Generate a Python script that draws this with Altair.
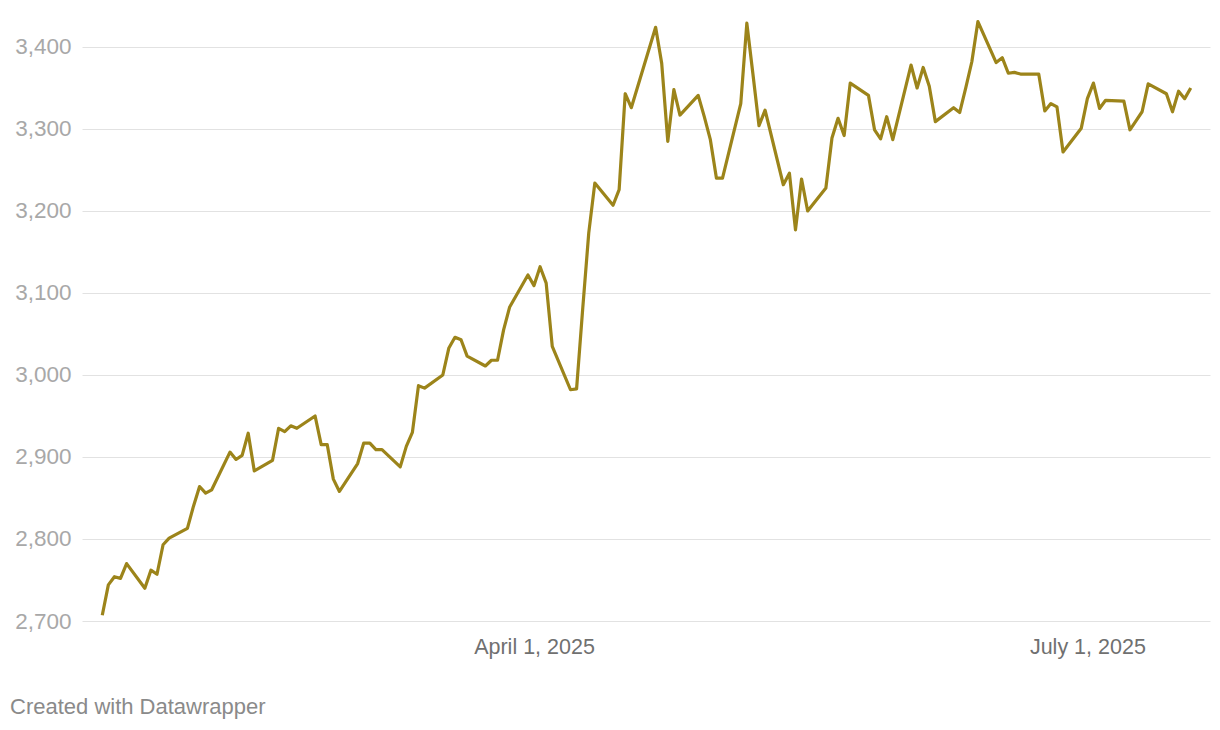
import altair as alt
import pandas as pd

# Trading dates (2025) and price values
jan_days = [20, 21, 22, 23, 24, 27, 28, 29, 30, 31]
jan_vals = [2707, 2744, 2754, 2752, 2770, 2740, 2762, 2757, 2793, 2801]
feb_days = [3, 4, 5, 6, 7, 10, 11, 12, 13, 14, 17, 18, 19, 20, 21, 24, 25, 26, 27, 28]
feb_vals = [2813, 2840, 2864, 2856, 2860, 2906, 2897, 2902, 2929, 2883, 2896, 2935, 2931, 2938, 2935,
            2950, 2915, 2915, 2873, 2858]
mar_days = [3, 4, 5, 6, 7, 10, 11, 12, 13, 14, 17, 18, 19, 20, 21, 24, 25, 26, 27, 28, 31]
mar_vals = [2892, 2917, 2917, 2909, 2909, 2888, 2913, 2930, 2987, 2984, 3000, 3033, 3046, 3043, 3023,
            3011, 3018, 3018, 3055, 3083, 3122]
apr_days = [1, 2, 3, 4, 7, 8, 9, 10, 11, 14, 15, 16, 17, 21, 22, 23, 24, 25, 28, 29, 30]
apr_vals = [3109, 3132, 3112, 3035, 2982, 2983, 3080, 3173, 3234, 3207, 3226, 3343, 3326, 3424, 3380,
            3285, 3348, 3317, 3341, 3315, 3287]
may_days = [1, 2, 5, 6, 7, 8, 9, 12, 13, 14, 15, 16, 19, 20, 21, 22, 23, 26, 27, 28, 29, 30]
may_vals = [3240, 3240, 3331, 3429, 3367, 3304, 3323, 3232, 3246, 3177, 3239, 3200, 3228, 3289, 3313,
            3292, 3356, 3341, 3299, 3288, 3315, 3287]
jun_days = [2, 3, 4, 5, 6, 9, 10, 11, 12, 13, 16, 17, 18, 19, 20, 23, 24, 25, 26, 27, 30]
jun_vals = [3378, 3350, 3375, 3352, 3309, 3326, 3320, 3350, 3382, 3431, 3381, 3387, 3368, 3369, 3367,
            3367, 3322, 3331, 3327, 3272, 3301]
jul_days = [1, 2, 3, 4, 7, 8, 9, 10, 11, 14, 15, 16, 17, 18]
jul_vals = [3337, 3356, 3325, 3335, 3334, 3299, 3310, 3321, 3355, 3343, 3321, 3346, 3337, 3350]

y_ticks = [2700, 2800, 2900, 3000, 3100, 3200, 3300, 3400]
footer_text = ["Created with Datawrapper"]

months = [(1, jan_days, jan_vals), (2, feb_days, feb_vals), (3, mar_days, mar_vals),
          (4, apr_days, apr_vals), (5, may_days, may_vals), (6, jun_days, jun_vals),
          (7, jul_days, jul_vals)]
dates, vals = [], []
for m, ds, vs in months:
    for d, v in zip(ds, vs):
        dates.append(f"2025-{m:02d}-{d:02d}")
        vals.append(v)
df = pd.DataFrame({"date": dates, "price": vals})

FONT = "Liberation Sans"
W, H = 1128, 606

line = alt.Chart(df).mark_line(color="#9c841a", strokeWidth=3.2, strokeJoin="round").encode(
    x=alt.X("date:T",
            scale=alt.Scale(type="utc",
                            domain=[alt.DateTime(year=2025, month=1, date=16, hours=16, utc=True),
                                    alt.DateTime(year=2025, month=7, date=21, hours=4, utc=True)]),
            axis=alt.Axis(values=[alt.DateTime(year=2025, month=4, date=1, utc=True),
                                  alt.DateTime(year=2025, month=7, date=1, utc=True)],
                          labelExpr="utcFormat(datum.value, '%B %-d, %Y')", title=None,
                          grid=False, domain=False, ticks=False,
                          labelFont=FONT, labelFontSize=21.5, labelColor="#707070",
                          labelPadding=15, labelFlush=False)),
    y=alt.Y("price:Q",
            scale=alt.Scale(domain=[2700, 3439], nice=False, zero=False),
            axis=alt.Axis(values=y_ticks, format=",.0f", title=None,
                          grid=True, gridColor="#e2e2e2", gridWidth=1,
                          domain=False, ticks=False,
                          labelFont=FONT, labelFontSize=22.5, labelColor="#a8a8a8",
                          labelPadding=11, labelBaseline="middle")),
)

footer = alt.Chart(pd.DataFrame({"t": footer_text})).mark_text(
    align="left", baseline="alphabetic", font=FONT, fontSize=22, color="#8a8a8a"
).encode(x=alt.value(-72), y=alt.value(699), text="t:N")

chart = alt.layer(line, footer).properties(
    width=W, height=H,
    autosize=alt.AutoSizeParams(type="none"),
    padding={"left": 74, "top": 7, "right": 2, "bottom": 100},
    background="white",
).configure_view(stroke=None)

chart.save("out.html", embed_options={"renderer": "svg", "actions": False})
